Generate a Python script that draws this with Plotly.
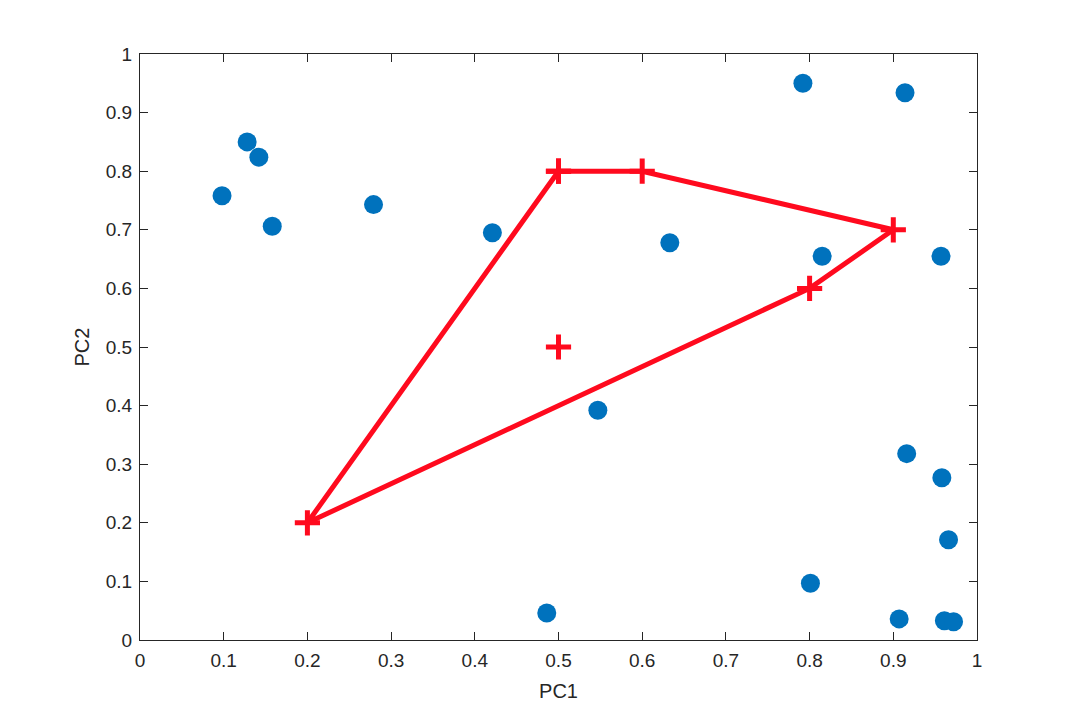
import plotly.graph_objects as go

# Scatter data (blue dots)
pc1 = [0.098, 0.128, 0.142, 0.158, 0.279, 0.421, 0.633, 0.547, 0.486,
       0.792, 0.914, 0.815, 0.957, 0.916, 0.958, 0.966, 0.801, 0.907,
       0.961, 0.972]
pc2 = [0.758, 0.850, 0.824, 0.706, 0.743, 0.695, 0.678, 0.392, 0.046,
       0.950, 0.934, 0.655, 0.655, 0.318, 0.277, 0.171, 0.097, 0.036,
       0.033, 0.031]

# Red polygon vertices (closed)
poly_x = [0.5, 0.6, 0.9, 0.8, 0.2, 0.5]
poly_y = [0.8, 0.8, 0.7, 0.6, 0.2, 0.8]

# Single red point
pt_x = [0.5]
pt_y = [0.5]

ticks = [0, 0.1, 0.2, 0.3, 0.4, 0.5, 0.6, 0.7, 0.8, 0.9, 1]
tick_labels = ["0", "0.1", "0.2", "0.3", "0.4", "0.5", "0.6", "0.7", "0.8", "0.9", "1"]

BLUE = "#0072BD"
RED = "#FF0A1E"
FONT = "Liberation Sans, Arial, sans-serif"

fig = go.Figure()
fig.add_trace(go.Scatter(x=pc1, y=pc2, mode="markers",
                         marker=dict(size=19, color=BLUE, line=dict(width=0)),
                         showlegend=False))
fig.add_trace(go.Scatter(x=poly_x, y=poly_y, mode="lines+markers",
                         line=dict(color=RED, width=5),
                         marker=dict(symbol="cross-thin", size=18,
                                     line=dict(color=RED, width=5)),
                         showlegend=False))
fig.add_trace(go.Scatter(x=pt_x, y=pt_y, mode="markers",
                         marker=dict(symbol="cross-thin", size=18,
                                     line=dict(color=RED, width=5)),
                         showlegend=False))

axis_common = dict(range=[0, 1], tickvals=ticks, ticktext=tick_labels,
                   showgrid=False, zeroline=False, showline=True,
                   linecolor="#262626", linewidth=1, mirror="ticks",
                   ticks="inside", ticklen=8, tickcolor="#262626",
                   ticklabelstandoff=3,
                   tickfont=dict(family=FONT, size=19, color="#262626"))

fig.update_layout(
    width=1080, height=720,
    paper_bgcolor="white", plot_bgcolor="white",
    margin=dict(l=132, r=111, t=46, b=88),
    xaxis=dict(**axis_common,
               title=dict(text="PC1", standoff=14,
                          font=dict(family=FONT, size=20, color="#262626"))),
    yaxis=dict(**axis_common,
               title=dict(text="PC2", standoff=10,
                          font=dict(family=FONT, size=20, color="#262626"))),
)

fig.write_html("out.html")
